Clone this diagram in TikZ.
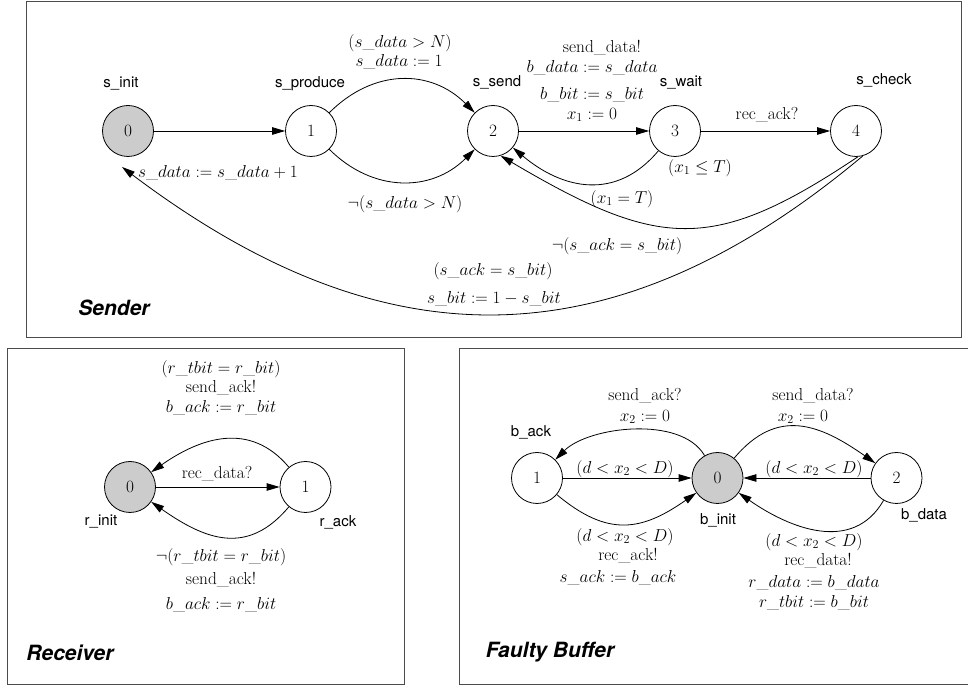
\RequirePackage{fix-cm}
\documentclass[tikz,border=0pt]{standalone}
\usepackage{fontspec}
\newfontfamily\helv{TeX Gyre Heros}
\usetikzlibrary{arrows.meta}
\begin{document}
\begin{tikzpicture}[x=1pt,y=1pt,
  st/.style={circle,draw,line width=0.8pt,minimum size=51pt,inner sep=0pt,font=\fontsize{17.3}{20}\selectfont},
  init/.style={st,fill=black!20},
  lbl/.style={font=\helv\fontsize{15}{18}\selectfont,inner sep=0pt},
  tx/.style={font=\fontsize{17.3}{20}\selectfont,inner sep=0pt},
  ttl/.style={font=\helv\bfseries\itshape\fontsize{21}{24}\selectfont,inner sep=0pt},
  frame/.style={draw=black!70,line width=1pt},
  edge/.style={draw,line width=0.8pt,-{Triangle[length=13pt,width=7.5pt]}},
]
\useasboundingbox (0,0) rectangle (968,690);
% frames
\draw[frame] (26,352) rectangle (961,688);
\draw[frame] (7,6) rectangle (404,341);
\draw[frame] (459,6) rectangle (990,341);

% ---------------- Sender ----------------
\node[init] (s0) at (128,559) {0};
\node[st] (s1) at (311,559) {1};
\node[st] (s2) at (493,559) {2};
\node[st] (s3) at (675,559) {3};
\node[st] (s4) at (856,559) {4};
\node[lbl] (ls0) at (121,606) {s\_init};
\node[lbl] (ls1) at (310,606) {s\_produce};
\node[lbl] (ls2) at (497,608) {s\_send};
\node[lbl] (ls3) at (681,607) {s\_wait};
\node[lbl] (ls4) at (884,610) {s\_check};
\coordinate (s0tip) at (122,523);

\draw[edge] (s0) -- (s1);
\draw[edge] (s1) to[out=45,in=135,looseness=1.1] (s2);
\draw[edge] (s1) to[out=-45,in=-135,looseness=1.08] (s2);
\draw[edge] (s2) -- (s3);
\draw[edge] (s3) -- (s4);
\draw[edge] (s3) to[out=-130,in=-40,looseness=1.15] (s2);
\draw[edge] (s4.-86) .. controls (712.3,435.7) and (658.7,441) .. (s2.-73);
\draw[edge] (s4.-75) .. controls (596.6,311.2) and (366,339.1) .. (s0tip);

\node[tx] (e1) at (400,647) {$(s\_data > N)$};
\node[tx] (e2) at (399,628) {$s\_data := 1$};
\node[tx] (e3) at (405,486) {$\neg(s\_data > N)$};
\node[tx] (e4) at (218,517) {$s\_data := s\_data + 1$};
\node[tx] (e5) at (602,642) {send\_data!};
\node[tx] (e6) at (592,622) {$b\_data := s\_data$};
\node[tx] (e7) at (592,595) {$b\_bit := s\_bit$};
\node[tx] (e8) at (592,575) {$x_1 := 0$};
\node[tx] (e9) at (767,575) {rec\_ack?};
\node[tx] (e10) at (700,522) {$(x_1 \leq T)$};
\node[tx] (e11) at (622,491) {$(x_1 = T)$};
\node[tx] (e12) at (617,444) {$\neg(s\_ack = s\_bit)$};
\node[tx] (e13) at (493,419) {$(s\_ack = s\_bit)$};
\node[tx] (e14) at (494,391) {$s\_bit := 1 - s\_bit$};
\node[ttl] (tsender) at (114,382) {Sender};

% ---------------- Receiver ----------------
\node[init] (r0) at (130,203) {0};
\node[st] (r1) at (305.5,203) {1};
\node[lbl] (lr0) at (101,168) {r\_init};
\node[lbl] (lr1) at (338,168) {r\_ack};
\draw[edge] (r0) -- (r1);
\draw[edge] (r1) to[out=130,in=35,looseness=1.12] (r0);
\draw[edge] (r1) to[out=-130,in=-35,looseness=1.21] (r0);
\node[tx] (f1) at (217,216) {rec\_data?};
\node[tx] (f2) at (221,321) {$(r\_tbit = r\_bit)$};
\node[tx] (f3) at (221,302) {send\_ack!};
\node[tx] (f4) at (221,282) {$b\_ack := r\_bit$};
\node[tx] (f5) at (221,133) {$\neg(r\_tbit = r\_bit)$};
\node[tx] (f6) at (221,110) {send\_ack!};
\node[tx] (f7) at (221,85) {$b\_ack := r\_bit$};
\node[ttl] (treceiver) at (70,37) {Receiver};

% ---------------- Faulty Buffer ----------------
\node[init] (b0) at (717.5,212) {0};
\node[st] (b1) at (537,212) {1};
\node[st] (b2) at (896.5,212) {2};
\node[lbl] (lb1) at (531,258) {b\_ack};
\node[lbl] (lb0) at (718,170) {b\_init};
\node[lbl] (lb2) at (924,175) {b\_data};
\draw[edge] (b0) to[out=120,in=45,looseness=0.8] (b1);
\draw[edge] (b1) -- (b0);
\draw[edge] (b1) to[out=-40,in=-145,looseness=1.22] (b0);
\draw[edge] (b0) to[out=50,in=145,looseness=1.22] (b2);
\draw[edge] (b2) -- (b0);
\draw[edge] (b2) to[out=-120,in=-35,looseness=1.09] (b0);
\node[tx] (g1) at (645,294) {send\_ack?};
\node[tx] (g2) at (645,273) {$x_2 := 0$};
\node[tx] (g3) at (625,221) {$(d < x_2 < D)$};
\node[tx] (g4) at (625,153) {$(d < x_2 < D)$};
\node[tx] (g5) at (628,134) {rec\_ack!};
\node[tx] (g6) at (618,112) {$s\_ack := b\_ack$};
\node[tx] (g7) at (813,294) {send\_data?};
\node[tx] (g8) at (803,273) {$x_2 := 0$};
\node[tx] (g9) at (814,221) {$(d < x_2 < D)$};
\node[tx] (g10) at (814,148) {$(d < x_2 < D)$};
\node[tx] (g11) at (818,129) {rec\_data!};
\node[tx] (g12) at (814,107) {$r\_data := b\_data$};
\node[tx] (g13) at (814,87) {$r\_tbit := b\_bit$};
\node[ttl] (tbuffer) at (550,38) {Faulty Buffer};
\end{tikzpicture}
\end{document}
